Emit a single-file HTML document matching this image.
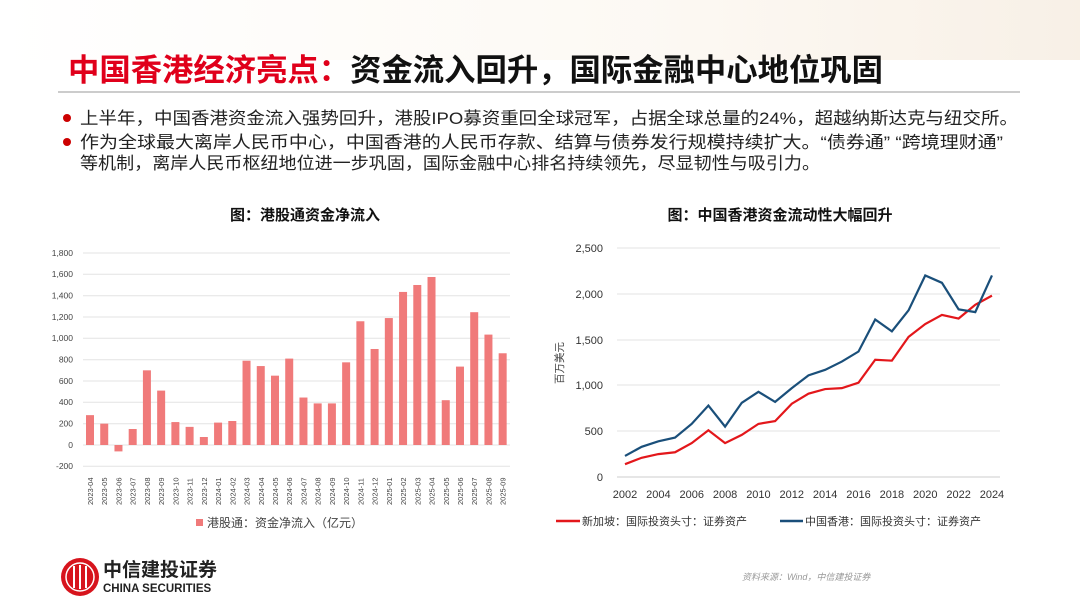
<!DOCTYPE html>
<html><head><meta charset="utf-8"><style>
body{margin:0;width:1080px;height:608px;overflow:hidden;background:#fff;font-family:"Liberation Sans","Noto Sans CJK SC",sans-serif;}
svg text{font-family:"Liberation Sans","Noto Sans CJK SC",sans-serif;}
</style></head><body>
<svg width="1080" height="608" viewBox="0 0 1080 608" xmlns="http://www.w3.org/2000/svg">
<defs><linearGradient id="bg" x1="0" y1="0" x2="1" y2="0"><stop offset="0" stop-color="#fff"/><stop offset="0.6" stop-color="#fbf5ec"/><stop offset="1" stop-color="#f3e6d6"/></linearGradient></defs>
<rect x="0" y="0" width="1080" height="60" fill="url(#bg)" opacity="0.6"/>
<text x="68" y="81" font-size="31" font-weight="bold" fill="#e0001b" textLength="815" lengthAdjust="spacingAndGlyphs">中国香港经济亮点：<tspan fill="#111">资金流入回升，国际金融中心地位巩固</tspan></text>
<line x1="58" y1="92" x2="1020" y2="92" stroke="#999" stroke-width="1"/>
<g font-size="17" fill="#222">
<circle cx="67" cy="118" r="4" fill="#c00"/><text x="80" y="124" textLength="938" lengthAdjust="spacingAndGlyphs">上半年，中国香港资金流入强势回升，港股IPO募资重回全球冠军，占据全球总量的24%，超越纳斯达克与纽交所。</text>
<circle cx="67" cy="142" r="4" fill="#c00"/><text x="80" y="148" textLength="923" lengthAdjust="spacingAndGlyphs">作为全球最大离岸人民币中心，中国香港的人民币存款、结算与债券发行规模持续扩大。“债券通” “跨境理财通”</text>
<text x="80" y="169" textLength="740" lengthAdjust="spacingAndGlyphs">等机制，离岸人民币枢纽地位进一步巩固，国际金融中心排名持续领先，尽显韧性与吸引力。</text>
</g>
<text x="305" y="220" font-size="15" font-weight="bold" text-anchor="middle" fill="#111">图：港股通资金净流入</text>
<text x="780" y="220" font-size="15" font-weight="bold" text-anchor="middle" fill="#111">图：中国香港资金流动性大幅回升</text>
<g stroke="#e3e3e3" stroke-width="1">
<line x1="83" x2="510" y1="253" y2="253"/><line x1="83" x2="510" y1="274.3" y2="274.3"/><line x1="83" x2="510" y1="295.7" y2="295.7"/><line x1="83" x2="510" y1="317" y2="317"/><line x1="83" x2="510" y1="338.3" y2="338.3"/><line x1="83" x2="510" y1="359.7" y2="359.7"/><line x1="83" x2="510" y1="381" y2="381"/><line x1="83" x2="510" y1="402.3" y2="402.3"/><line x1="83" x2="510" y1="423.7" y2="423.7"/><line x1="83" x2="510" y1="445" y2="445"/><line x1="83" x2="510" y1="466.3" y2="466.3"/>
</g>
<g font-size="8.5" fill="#444" text-anchor="end">
<text x="73" y="256">1,800</text><text x="73" y="277">1,600</text><text x="73" y="298.5">1,400</text><text x="73" y="320">1,200</text><text x="73" y="341">1,000</text><text x="73" y="362.5">800</text><text x="73" y="384">600</text><text x="73" y="405">400</text><text x="73" y="426.5">200</text><text x="73" y="448">0</text><text x="73" y="469">-200</text>
</g>
<g id="bars" fill="#f07a7a"></g>
<g id="xl" font-size="7.5" fill="#444"></g>
<rect x="196" y="519" width="7" height="7" fill="#f07a7a"/>
<text x="207" y="527" font-size="12" fill="#444">港股通：资金净流入（亿元）</text>
<g stroke="#e3e3e3" stroke-width="1">
<line x1="617" x2="1000" y1="248" y2="248"/><line x1="617" x2="1000" y1="294" y2="294"/><line x1="617" x2="1000" y1="340" y2="340"/><line x1="617" x2="1000" y1="385" y2="385"/><line x1="617" x2="1000" y1="431" y2="431"/>
</g>
<line x1="617" x2="1000" y1="477" y2="477" stroke="#ccc"/>
<g font-size="11" fill="#333" text-anchor="end">
<text x="603" y="252">2,500</text><text x="603" y="298">2,000</text><text x="603" y="344">1,500</text><text x="603" y="389">1,000</text><text x="603" y="435">500</text><text x="603" y="481">0</text>
</g>
<text transform="translate(563,363) rotate(-90)" font-size="10.5" fill="#444" text-anchor="middle">百万美元</text>
<g id="yl" font-size="11" fill="#333" text-anchor="middle"></g>
<polyline id="sg" fill="none" stroke="#e3171b" stroke-width="2.2"/>
<polyline id="hk" fill="none" stroke="#1a4f7a" stroke-width="2.2"/>
<line x1="556" y1="521" x2="580" y2="521" stroke="#e3171b" stroke-width="2.5"/>
<text x="582" y="525" font-size="11" fill="#333">新加坡：国际投资头寸：证券资产</text>
<line x1="780" y1="521" x2="803" y2="521" stroke="#1a4f7a" stroke-width="2.5"/>
<text x="805" y="525" font-size="11" fill="#333">中国香港：国际投资头寸：证券资产</text>
<circle cx="80" cy="577" r="19" fill="#d7141d"/>
<circle cx="80" cy="577" r="14" fill="none" stroke="#fff" stroke-width="1.5"/>
<g stroke="#fff" stroke-width="2"><line x1="74" y1="566" x2="74" y2="588"/><line x1="80" y1="565" x2="80" y2="589"/><line x1="86" y1="566" x2="86" y2="588"/></g>
<text x="103" y="576" font-size="19" font-weight="bold" fill="#222">中信建投证券</text>
<text x="103" y="592" font-size="11.5" font-weight="bold" fill="#222">CHINA SECURITIES</text>
<text x="742" y="580" font-size="9" font-style="italic" fill="#999">资料来源：Wind，中信建投证券</text>
</svg>
<script>
var ns="http://www.w3.org/2000/svg";
var v=[280,200,-60,150,700,510,215,170,75,210,225,790,740,650,810,445,390,390,775,1160,900,1190,1435,1500,1575,420,735,1245,1035,860];
var lab=["2023-04","2023-05","2023-06","2023-07","2023-08","2023-09","2023-10","2023-11","2023-12","2024-01","2024-02","2024-03","2024-04","2024-05","2024-06","2024-07","2024-08","2024-09","2024-10","2024-11","2024-12","2025-01","2025-02","2025-03","2025-04","2025-05","2025-06","2025-07","2025-08","2025-09"];
var b=document.getElementById("bars"),xl=document.getElementById("xl");
v.forEach(function(d,i){var cx=90+i*14.23,y0=445,y=445-d*0.10667;var r=document.createElementNS(ns,"rect");r.setAttribute("x",cx-4);r.setAttribute("width",8);r.setAttribute("y",Math.min(y,y0));r.setAttribute("height",Math.abs(y-y0));b.appendChild(r);
var t=document.createElementNS(ns,"text");t.setAttribute("transform","translate("+(cx+3)+",505) rotate(-90)");t.textContent=lab[i];xl.appendChild(t);});
var sg=[140,210,250,270,370,510,370,460,580,610,800,910,960,970,1030,1280,1270,1530,1670,1770,1730,1880,1980];
var hk=[230,330,390,430,580,780,550,810,930,820,970,1110,1170,1260,1370,1720,1590,1820,2200,2120,1830,1800,2200];
function pts(a){return a.map(function(d,i){return (625+i*16.68)+","+(477-d*0.0916)}).join(" ")}
document.getElementById("sg").setAttribute("points",pts(sg));
document.getElementById("hk").setAttribute("points",pts(hk));
var yl=document.getElementById("yl");
for(var y=2002;y<=2024;y+=2){var t=document.createElementNS(ns,"text");t.setAttribute("x",625+(y-2002)*16.68);t.setAttribute("y",498);t.textContent=y;yl.appendChild(t);}
</script>
</body></html>
